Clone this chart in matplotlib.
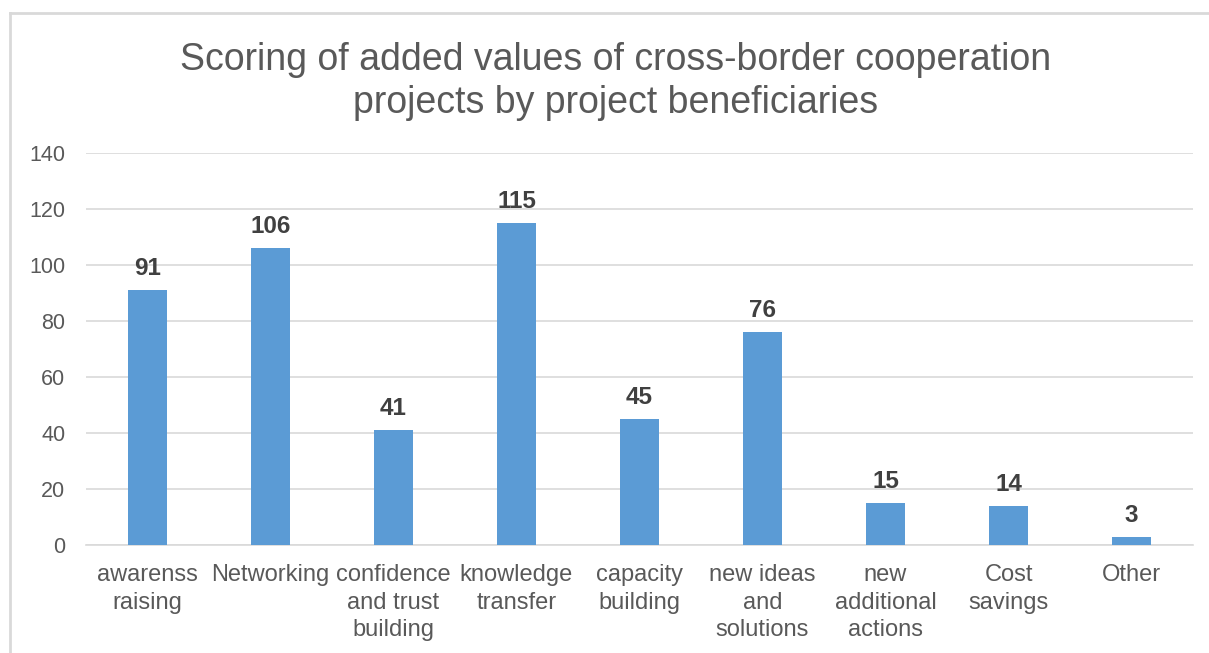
import matplotlib
matplotlib.use("Agg")
import matplotlib.pyplot as plt
from matplotlib.lines import Line2D

plt.rcParams["font.family"] = ["Liberation Sans", "DejaVu Sans"]

categories = [
    "awarenss\nraising",
    "Networking",
    "confidence\nand trust\nbuilding",
    "knowledge\ntransfer",
    "capacity\nbuilding",
    "new ideas\nand\nsolutions",
    "new\nadditional\nactions",
    "Cost\nsavings",
    "Other",
]
scores = [91, 106, 41, 115, 45, 76, 15, 14, 3]
y_ticks = [0, 20, 40, 60, 80, 100, 120, 140]

BAR_COLOR = "#5B9BD5"
TEXT_COLOR = "#595959"
GRID_COLOR = "#D9D9D9"

fig = plt.figure(figsize=(12.09, 6.53), dpi=100)
ax = fig.add_axes([0.0711, 0.1654, 0.9157, 0.6003])

x = range(len(categories))
ax.bar(x, scores, width=0.31, color=BAR_COLOR, zorder=3)
for xi, v in zip(x, scores):
    ax.text(xi, v + 3.5, str(v), ha="center", va="bottom",
            fontsize=17.5, fontweight="bold", color="#404040")

ax.set_xlim(-0.5, len(categories) - 0.5)
ax.set_ylim(0, 140)
ax.set_yticks(y_ticks)
ax.set_yticklabels([str(t) for t in y_ticks], fontsize=15.5, color=TEXT_COLOR)
ax.set_xticks(list(x))
ax.set_xticklabels(categories, fontsize=17, color=TEXT_COLOR, linespacing=1.3)
ax.tick_params(axis="both", length=0)
ax.tick_params(axis="y", pad=15)
ax.tick_params(axis="x", pad=14)

ax.grid(axis="y", color=GRID_COLOR, linewidth=1.2, zorder=0)
for side in ["top", "right", "left"]:
    ax.spines[side].set_visible(False)
ax.spines["bottom"].set_color(GRID_COLOR)
ax.spines["bottom"].set_linewidth(1.2)

fig.text(0.509, 0.875,
         "Scoring of added values of cross-border cooperation\nprojects by project beneficiaries",
         ha="center", va="center", fontsize=27, color=TEXT_COLOR, linespacing=1.27)

# chart-area border (left and top edges)
fig.add_artist(Line2D([0.0083, 0.0083], [0.0, 0.980], transform=fig.transFigure,
                      color=GRID_COLOR, linewidth=2))
fig.add_artist(Line2D([0.0083, 1.0], [0.980, 0.980], transform=fig.transFigure,
                      color=GRID_COLOR, linewidth=2))

fig.savefig("out.png", dpi=100)
